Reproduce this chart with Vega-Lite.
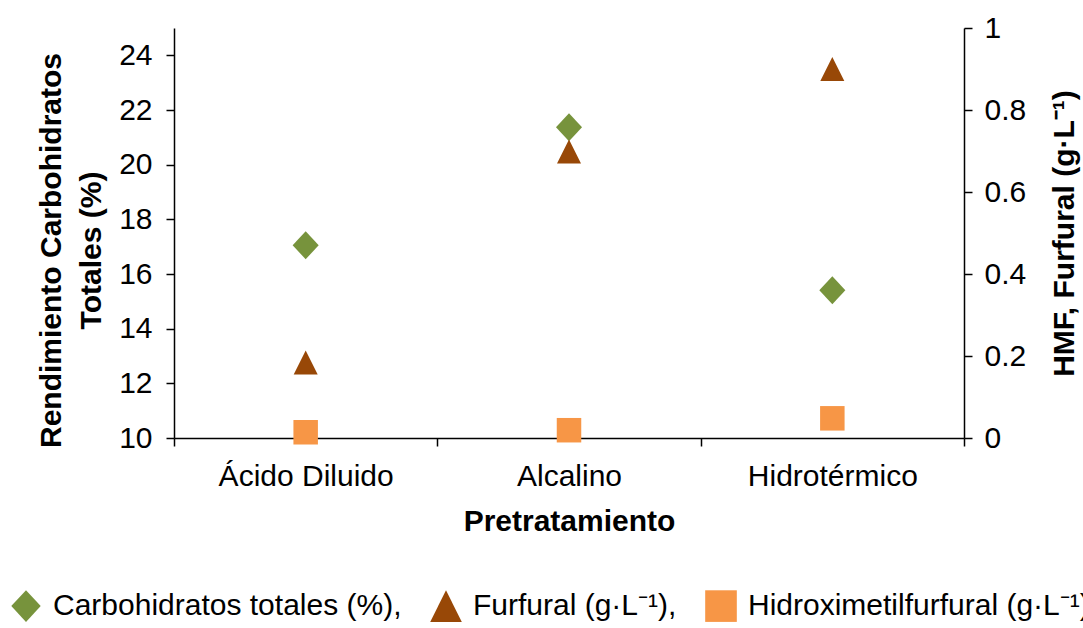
{
  "$schema": "https://vega.github.io/schema/vega-lite/v6.json",
  "width": 790,
  "height": 410,
  "autosize": "none",
  "padding": {"left": 174, "top": 28, "right": 119, "bottom": 190},
  "background": "white",
  "config": {
    "font": "Liberation Sans",
    "view": {"stroke": null},
    "axis": {"grid": false, "domainColor": "#000000", "tickColor": "#000000", "domainWidth": 1.5, "tickWidth": 1.5, "labelColor": "#000000", "titleColor": "#000000", "labelFont": "Liberation Sans", "titleFont": "Liberation Sans", "labelFontSize": 30, "titleFontSize": 30, "titleFontWeight": "bold"}
  },
  "data": {
    "values": [
      {"tratamiento": "Ácido Diluido", "serie": "Carbohidratos totales (%),", "valor": 17.05},
      {"tratamiento": "Alcalino", "serie": "Carbohidratos totales (%),", "valor": 21.37},
      {"tratamiento": "Hidrotérmico", "serie": "Carbohidratos totales (%),", "valor": 15.41},
      {"tratamiento": "Ácido Diluido", "serie": "Furfural (g·L⁻¹),", "valor": 0.184},
      {"tratamiento": "Alcalino", "serie": "Furfural (g·L⁻¹),", "valor": 0.699},
      {"tratamiento": "Hidrotérmico", "serie": "Furfural (g·L⁻¹),", "valor": 0.9},
      {"tratamiento": "Ácido Diluido", "serie": "Hidroximetilfurfural (g·L⁻¹)", "valor": 0.014},
      {"tratamiento": "Alcalino", "serie": "Hidroximetilfurfural (g·L⁻¹)", "valor": 0.019},
      {"tratamiento": "Hidrotérmico", "serie": "Hidroximetilfurfural (g·L⁻¹)", "valor": 0.048}
    ]
  },
  "encoding": {
    "x": {
      "field": "tratamiento", "type": "nominal",
      "sort": ["Ácido Diluido", "Alcalino", "Hidrotérmico"],
      "scale": {"paddingInner": 0, "paddingOuter": 0},
      "axis": {"title": "Pretratamiento", "labelAngle": 0, "tickBand": "extent", "tickSize": 8, "labelPadding": 15, "titlePadding": 15}
    },
    "color": {
      "field": "serie", "type": "nominal",
      "scale": {"domain": ["Carbohidratos totales (%),", "Furfural (g·L⁻¹),", "Hidroximetilfurfural (g·L⁻¹)"], "range": ["#77933C", "#984807", "#F79646"]},
      "legend": {"title": null, "orient": "none", "direction": "horizontal", "legendX": -164, "legendY": 562, "labelFontSize": 30, "labelFont": "Liberation Sans", "labelColor": "#000000", "labelLimit": 0, "symbolSize": 1000, "labelOffset": 11, "columnPadding": 28, "padding": 0, "symbolStrokeWidth": 0}
    },
    "shape": {
      "field": "serie", "type": "nominal",
      "scale": {"domain": ["Carbohidratos totales (%),", "Furfural (g·L⁻¹),", "Hidroximetilfurfural (g·L⁻¹)"], "range": ["M0,-1L0.93,0L0,1L-0.93,0Z", "M0,-1L1,1L-1,1Z", "square"]}
    }
  },
  "layer": [
    {
      "transform": [{"filter": "datum.serie === 'Carbohidratos totales (%),'"}],
      "mark": {"type": "point", "filled": true, "opacity": 1, "size": 784, "strokeWidth": 0},
      "encoding": {
        "y": {
          "field": "valor", "type": "quantitative",
          "scale": {"domain": [10, 25], "nice": false, "zero": false},
          "axis": {"title": ["Rendimiento Carbohidratos", "Totales (%)"], "values": [10, 12, 14, 16, 18, 20, 22, 24], "tickSize": 8, "labelPadding": 14, "titlePadding": 12, "titleLineHeight": 40, "titleY": 222, "orient": "left"}
        }
      }
    },
    {
      "transform": [{"filter": "datum.serie !== 'Carbohidratos totales (%),'"}],
      "encoding": {
        "y": {
          "field": "valor", "type": "quantitative",
          "scale": {"domain": [0, 1], "nice": false},
          "axis": {"title": "HMF, Furfural (g·L⁻¹)", "orient": "right", "values": [0, 0.2, 0.4, 0.6, 0.8, 1], "format": "~g", "tickSize": 8, "labelPadding": 12, "titlePadding": 54, "titleAngle": -90}
        }
      },
      "layer": [
        {
          "transform": [{"filter": "datum.serie === 'Furfural (g·L⁻¹),'"}],
          "mark": {"type": "point", "filled": true, "opacity": 1, "size": 576, "strokeWidth": 0}
        },
        {
          "transform": [{"filter": "datum.serie === 'Hidroximetilfurfural (g·L⁻¹)'"}],
          "mark": {"type": "point", "filled": true, "opacity": 1, "size": 600, "strokeWidth": 0}
        }
      ]
    }
  ],
  "resolve": {"scale": {"y": "independent"}}
}
